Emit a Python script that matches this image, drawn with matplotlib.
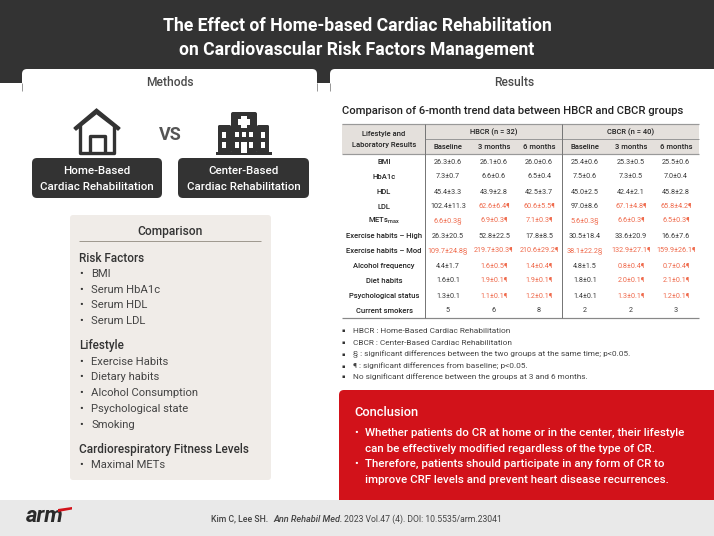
import matplotlib
matplotlib.use("Agg")
import matplotlib.pyplot as plt
from matplotlib.patches import Rectangle, FancyBboxPatch, Polygon

rows = ["BMI", "HbA1c", "HDL", "LDL", "METs$_{\\mathrm{max}}$", "Exercise habits – High", "Exercise habits – Mod",
        "Alcohol frequency", "Diet habits", "Psychological status", "Current smokers"]
hb_base = ["26.3±0.6", "7.3±0.7", "45.4±3.3", "102.4±11.3", "6.6±0.3§", "26.3±20.5", "109.7±24.8§", "4.4±1.7", "1.6±0.1", "1.3±0.1", "5"]
hb_3 = ["26.1±0.6", "6.6±0.6", "43.9±2.8", "62.6±6.4¶", "6.9±0.3¶", "52.8±22.5", "219.7±30.3¶", "1.6±0.5¶", "1.9±0.1¶", "1.1±0.1¶", "6"]
hb_6 = ["26.0±0.6", "6.5±0.4", "42.5±3.7", "60.6±5.5¶", "7.1±0.3¶", "17.8±8.5", "210.6±29.2¶", "1.4±0.4¶", "1.9±0.1¶", "1.2±0.1¶", "8"]
cb_base = ["25.4±0.6", "7.5±0.6", "45.0±2.5", "97.0±8.6", "5.6±0.3§", "30.5±18.4", "38.1±22.2§", "4.8±1.5", "1.8±0.1", "1.4±0.1", "2"]
cb_3 = ["25.3±0.5", "7.3±0.5", "42.4±2.1", "67.1±4.8¶", "6.6±0.3¶", "33.6±20.9", "132.9±27.1¶", "0.8±0.4¶", "2.0±0.1¶", "1.3±0.1¶", "2"]
cb_6 = ["25.5±0.6", "7.0±0.4", "45.8±2.8", "65.8±4.2¶", "6.5±0.3¶", "16.6±7.6", "159.9±26.1¶", "0.7±0.4¶", "2.1±0.1¶", "1.2±0.1¶", "3"]
columns = [hb_base, hb_3, hb_6, cb_base, cb_3, cb_6]
col_names = ["Baseline", "3 months", "6 months"] * 2
notes = ["HBCR : Home-Based Cardiac Rehabilitation", "CBCR : Center-Based Cardiac Rehabilitation",
         "§ : significant differences between the two groups at the same time; p<0.05.",
         "¶ : significant differences from baseline; p<0.05.",
         "No significant difference between the groups at 3 and 6 months."]
comparison = [("h", "Risk Factors"), ("b", "BMI"), ("b", "Serum HbA1c"), ("b", "Serum HDL"), ("b", "Serum LDL"),
              ("g", ""), ("h", "Lifestyle"), ("b", "Exercise Habits"), ("b", "Dietary habits"), ("b", "Alcohol Consumption"),
              ("b", "Psychological state"), ("b", "Smoking"), ("g", ""), ("h", "Cardiorespiratory Fitness Levels"), ("b", "Maximal METs")]

plt.rcParams['font.family'] = ['Roboto', 'DejaVu Sans']
plt.rcParams['mathtext.fontset'] = 'custom'
plt.rcParams['mathtext.rm'] = 'Roboto:medium'
plt.rcParams['mathtext.default'] = 'rm'
DARK = "#333333"
fig = plt.figure(figsize=(7.14, 5.36), dpi=100)
ax = fig.add_axes([0, 0, 1, 1])
ax.set_xlim(0, 714); ax.set_ylim(536, 0); ax.axis("off")
PT = 0.72

def T(x, y, s, px=9, c="#222222", w="normal", ha="center", **k):
    return ax.text(x, y, s, fontsize=px * PT, color=c, fontweight=w, ha=ha, va="center", **k)
def R(x0, y0, x1, y1, c, z=1):
    ax.add_patch(Rectangle((x0, y0), x1 - x0, y1 - y0, fc=c, ec="none", zorder=z))
def RR(x0, y0, x1, y1, c, r=4, z=1):
    ax.add_patch(FancyBboxPatch((x0 + r, y0 + r), x1 - x0 - 2 * r, y1 - y0 - 2 * r,
                                boxstyle=f"round,pad={r},rounding_size={r}", fc=c, ec="none", zorder=z))
def L(x0, y0, x1, y1, c="#888888", lw=1, z=3):
    ax.plot([x0, x1], [y0, y1], color=c, lw=lw * PT, zorder=z, solid_capstyle="butt")

# Header band
R(0, 0, 714, 83, DARK)
T(357, 26, "The Effect of Home-based Cardiac Rehabilitation", 17.6, "white", "bold")
T(357, 50, "on Cardiovascular Risk Factors Management", 17.6, "white", "bold")
RR(22, 69, 317, 100, "white", 5, 2)
RR(330, 69, 730, 100, "white", 5, 2)
L(22, 83, 22, 91, "#999999"); L(317, 83, 317, 91, "#999999"); L(330, 83, 330, 91, "#999999")
T(170, 82, "Methods", 12, "#4a4a4a", "medium", zorder=5)
T(514, 82, "Results", 12, "#4a4a4a", "medium", zorder=5)

# Home icon
ax.add_patch(Polygon([(74, 128), (96.5, 109), (120, 128), (118, 130), (96.5, 113.5), (76, 130)], fc=DARK, ec=DARK, lw=1))
ax.plot([79.5, 79.5, 114, 114], [124, 153, 153, 124], color=DARK, lw=2.4, solid_joinstyle="round", solid_capstyle="butt")
ax.plot([89.5, 89.5, 104.5, 104.5], [153, 136, 136, 153], color=DARK, lw=2.4, solid_joinstyle="round", solid_capstyle="butt")
T(170, 135, "VS", 18, "#555555", "bold")
# Hospital icon
R(216, 152, 272, 154.5, DARK)
RR(218, 125, 231, 153, DARK, 1.5); RR(257, 125, 269, 153, DARK, 1.5); RR(231, 112, 257, 153, DARK, 2)
R(241, 116, 247, 128, "white", 2); R(238, 119, 250, 125, "white", 2)
for x in (222, 261):
    R(x, 132, x + 4, 138, "white", 2); R(x, 142, x + 4, 148, "white", 2)
for x in (235, 242, 249):
    R(x, 132, x + 4, 137, "white", 2)
for x in (235, 249):
    R(x, 142, x + 4, 148, "white", 2)
R(241, 142, 247, 153, "white", 2)
# Method labels
RR(32, 158, 162, 198, DARK, 5); RR(178, 158, 309, 198, DARK, 5)
for xc, a in ((96.5, "Home-Based"), (243.5, "Center-Based")):
    T(xc, 171, a, 11.5, "white", "medium", zorder=3)
    T(xc, 187, "Cardiac Rehabilitation", 11.5, "white", "medium", zorder=3)

# Comparison panel
RR(70, 215, 271, 480, "#f0ece8", 3)
T(170, 231, "Comparison", 12, "#333333", "medium", zorder=3)
L(79, 241, 261, 241, "#a09a90")
y = 258
for kind, s in comparison:
    if kind == "h":
        T(79, y, s, 11.7, "#333333", "medium", "left", zorder=3); y += 15.8
    elif kind == "b":
        T(79.5, y, "•", 11, "#333333", ha="left", zorder=3)
        T(91, y, s, 11.2, "#444444", ha="left", zorder=3); y += 15.8
    else:
        y += 8.7

# Table
T(342, 111, "Comparison of 6-month trend data between HBCR and CBCR groups", 11.3, "#222222", "medium", "left")
R(342, 124, 699, 154, "#e4e0dc")
L(342, 124, 699, 124, "#999999", 1.2); L(425, 139, 699, 139, "#999999"); L(342, 154, 699, 154, "#999999", 1.2)
L(342, 318, 699, 318, "#888888", 1.2)
L(425, 124, 425, 318, "#777777", 1); L(562, 124, 562, 318, "#777777", 1)
T(384, 134, "Lifestyle and", 7.7, w="medium"); T(384, 145, "Laboratory Results", 7.7, w="medium")
T(494, 132, "HBCR (n = 32)", 7.5, w="medium"); T(631, 132, "CBCR (n = 40)", 7.5, w="medium")
col_x = [448, 494, 539, 585, 631, 676]
for x, n in zip(col_x, col_names):
    T(x, 147, n, 7.7, w="medium")
row_y = [162, 177, 192, 207, 221, 236, 251, 266, 281, 296, 311]
for i, (yy, r) in enumerate(zip(row_y, rows)):
    T(384, yy, r, 7.7, "#222222", "medium")
    for x, col in zip(col_x, columns):
        v = col[i]
        T(x, yy, v, 7.3, "#ef6a4c" if ("¶" in v or "§" in v) else "#3a3a3a")
# Notes
for n, yy in zip(notes, [331, 343, 354, 366, 377]):
    T(342, yy, "▪", 5, "#333333", ha="left", family=['DejaVu Sans'])
    T(353, yy, n, 8.3, "#444444", ha="left")

# Conclusion
RR(339, 390, 740, 520, "#d2121a", 5, 1)
T(354, 413, "Conclusion", 12.8, "white", "medium", "left", zorder=3)
concl = [(433, "•", "Whether patients do CR at home or in the center, their lifestyle"),
         (449, "", "can be effectively modified regardless of the type of CR."),
         (464, "•", "Therefore, patients should participate in any form of CR to"),
         (480, "", "improve CRF levels and prevent heart disease recurrences.")]
for yy, b, s in concl:
    if b:
        T(354.5, yy, b, 11, "white", ha="left", zorder=3)
    T(365, yy, s, 11.5, "white", "medium", ha="left", zorder=3)

# Footer
R(0, 500, 714, 536, "#e9e9e9", 2)
T(25.5, 516, "arm", 22, "#2a2a2a", "bold", "left", fontstyle="italic", zorder=3)
ax.add_patch(Polygon([(58, 509), (72, 507), (72, 509.5), (58, 512)], fc="#d2121a", ec="none", zorder=3))
ft = dict(color="#444444", va="baseline", ha="left", zorder=3)
ax.text(211, 521.5, "Kim C, Lee SH.", fontsize=8.8 * PT, fontweight="medium", **ft)
ax.text(273, 521.5, "Ann Rehabil Med.", fontsize=9.2 * PT, fontweight="medium", fontstyle="italic", **ft)
ax.text(344, 521.5, "2023 Vol.47 (4). DOI: 10.5535/arm.23041", fontsize=8.6 * PT, **ft)

fig.savefig("out.png", dpi=100)
